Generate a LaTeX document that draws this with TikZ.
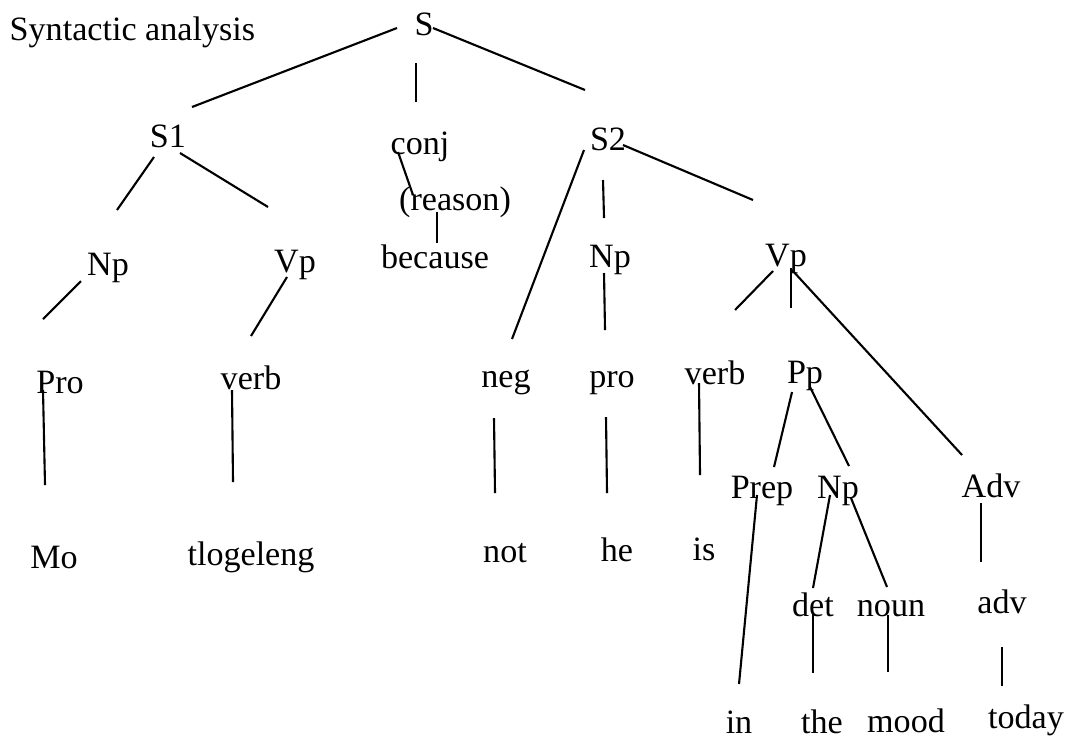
\documentclass[tikz,border=0pt]{standalone}
\usepackage{fontspec}
\setmainfont{Liberation Serif}
\usetikzlibrary{calc}
\tikzset{
     word/.style   = {anchor=base, inner sep=0pt, font=\fontsize{9.7}{11}\selectfont},
     branch/.style = {black, line width=0.6pt},
    }

\begin{document}
\begin{tikzpicture}[x=0.01cm, y=-0.01cm]
        \useasboundingbox (0,0) rectangle (1068,736);
        \node [word, anchor=base west] (title) at (9,40) {Syntactic analysis};

        % top levels
        \node [word] (S)       at (424,35)  {S};
        \node [word] (S1)      at (168,147) {S1};
        \node [word] (conj)    at (420,154) {conj};
        \node [word] (S2)      at (608,150) {S2};
        \node [word] (reason)  at (455,210) {(reason)};
        \node [word] (because) at (435,268) {because};
        \node [word] (np1)     at (108,275) {Np};
        \node [word] (vp1)     at (295,272) {Vp};
        \node [word] (np2)     at (610,267) {Np};
        \node [word] (vp2)     at (786,266) {Vp};

        % categories
        \node [word] (proA)  at (60,393)  {Pro};
        \node [word] (verbA) at (251,389) {verb};
        \node [word] (neg)   at (506,387) {neg};
        \node [word] (pro)   at (612,387) {pro};
        \node [word] (verbB) at (715,384) {verb};
        \node [word] (pp)    at (805,383) {Pp};
        \node [word] (prep)  at (762,498) {Prep};
        \node [word] (np3)   at (838,498) {Np};
        \node [word] (advP)  at (991,497) {Adv};
        \node [word] (det)   at (813,616) {det};
        \node [word] (noun)  at (891,616) {noun};
        \node [word] (adv)   at (1002,613) {adv};

        % words
        \node [word] (mo)        at (54,568)  {Mo};
        \node [word] (tlogeleng) at (251,565) {tlogeleng};
        \node [word] (not)       at (505,562) {not};
        \node [word] (he)        at (617,561) {he};
        \node [word] (is)        at (704,560) {is};
        \node [word] (in)        at (739,733) {in};
        \node [word] (the)       at (822,733) {the};
        \node [word] (mood)      at (906,732) {mood};
        \node [word] (today)     at (1026,728) {today};

        % branches: parent/child/start offset/end offset
        \foreach \nA/\nB/\xa/\ya/\xb/\yb in {
            S/S1/-27/-7/24/-40, S/conj/-8/28/-4/-52, S/S2/9/-7/-23/-60,
            S1/np1/-14/10/9/-65, S1/vp1/12/6/-27/-65,
            conj/reason/-22/-2/-42/-15, reason/because/-18/2/2/-25,
            S2/neg/-24/0/6/-48, S2/np2/-5/30/-6/-49, S2/vp2/15/-5/-33/-66,
            np1/proA/-27/6/-17/-74, vp1/verbA/-8/5/0/-53,
            np2/pro/-6/6/-7/-57,
            vp2/verbB/-13/5/20/-74, vp2/pp/5/2/-14/-75, vp2/advP/6/4/-29/-42,
            proA/mo/-17/-3/-9/-83, verbA/tlogeleng/-19/1/-18/-83,
            neg/not/-12/31/-10/-69, pro/he/-6/30/-10/-68, verbB/is/-16/-1/-4/-85,
            pp/prep/-13/9/12/-31, pp/np3/5/4/11/-32, advP/adv/-10/6/-21/-51,
            prep/in/-5/-3/0/-49, np3/det/-8/-3/0/-28, np3/noun/13/0/-4/-29,
            det/the/0/-3/-9/-60, noun/mood/-3/-1/-18/-60, adv/today/0/34/-24/-42}
          \draw [branch] ($(\nA.base)+(\xa,\ya)$) -- ($(\nB.base)+(\xb,\yb)$);
\end{tikzpicture}
\end{document}
